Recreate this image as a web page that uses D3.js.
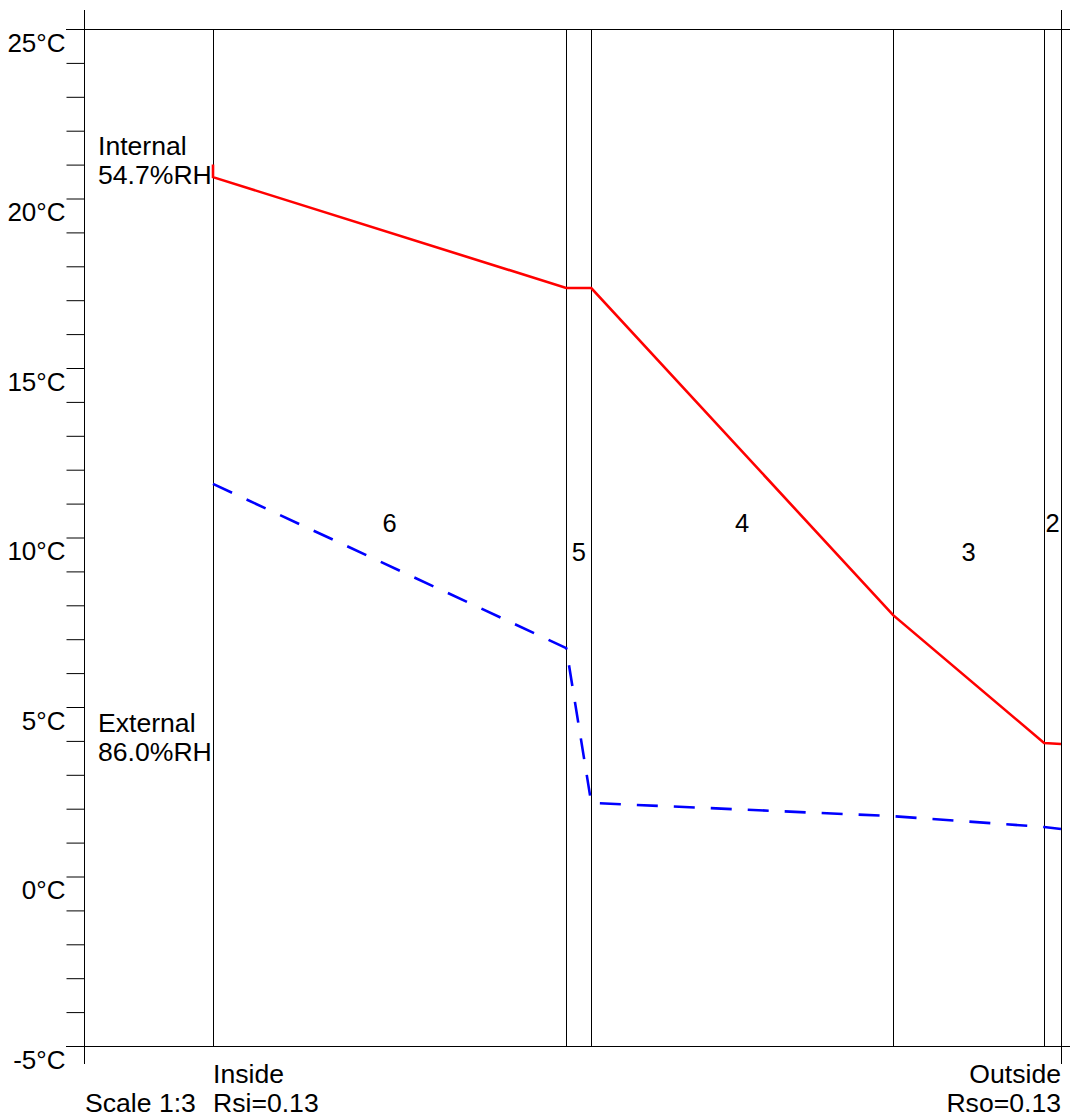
<!DOCTYPE html>
<html>
<head>
<meta charset="utf-8">
<script src="https://cdn.jsdelivr.net/npm/d3@7"></script>
<style>
  html, body { margin: 0; padding: 0; background: #fff; }
  svg { display: block; font-family: "Liberation Sans", Arial, sans-serif; }
</style>
</head>
<body>
<svg id="chart" width="1070" height="1118"></svg>
<script>
// ---- data ----
const layerNames = ["6", "5", "4", "3", "2"];            // inside -> outside
const layerThickness = [117, 8.3, 100, 50, 5.6];         // mm
const internalTemp = 21.0;                                // internal air temperature
const tempAtInterfaces = [20.63, 17.36, 17.36, 7.71, 3.94, 3.91];
const dewAtInterfaces = [11.58, 6.74, 2.17, 1.78, 1.46, 1.40];
const tickValues = d3.range(-5, 26, 1);
const majorTicks = [-5, 0, 5, 10, 15, 20, 25];
const internalLabel = ["Internal", "54.7%RH"];
const externalLabel = ["External", "86.0%RH"];
const insideLabel = ["Inside", "Rsi=0.13"];
const outsideLabel = ["Outside", "Rso=0.13"];
const scaleLabel = "Scale 1:3";

// ---- layout ----
const W = 1070, H = 1118;
const axisX = 84, plotTop = 29, plotBottom = 1046;
const wallLeft = 213, wallRight = 1061;
const svg = d3.select("#chart");
svg.append("rect").attr("width", W).attr("height", H).attr("fill", "#fff");

const y = d3.scaleLinear().domain([-5, 25]).range([plotBottom, plotTop]);
const boundaries = [0];
layerThickness.forEach(t => boundaries.push(boundaries[boundaries.length - 1] + t));
const x = d3.scaleLinear().domain([0, d3.sum(layerThickness)]).range([wallLeft, wallRight]);

// frame lines
svg.append("line").attr("x1", 66).attr("x2", W).attr("y1", plotTop + 0.5).attr("y2", plotTop + 0.5)
  .attr("stroke", "#000").attr("stroke-width", 1);
svg.append("line").attr("x1", 66).attr("x2", W).attr("y1", plotBottom + 0.5).attr("y2", plotBottom + 0.5)
  .attr("stroke", "#000").attr("stroke-width", 1);

// axis
const axis = d3.axisLeft(y).tickValues(tickValues).tickSize(18).tickSizeOuter(0)
  .tickFormat(d => majorTicks.includes(d) ? d + "°C" : "");
const gAxis = svg.append("g").attr("transform", `translate(${axisX + 0.5},0)`).call(axis);
gAxis.select(".domain").remove();
gAxis.selectAll(".tick line").attr("stroke", "#000");
gAxis.selectAll(".tick text")
  .attr("x", -19).attr("dy", "22px")
  .attr("font-size", 26).attr("font-family", "Liberation Sans, Arial, sans-serif")
  .attr("fill", "#000");
svg.append("line").attr("x1", axisX + 0.5).attr("x2", axisX + 0.5).attr("y1", 10).attr("y2", 1064)
  .attr("stroke", "#000");

// layer boundaries
svg.selectAll("line.bound").data(boundaries).enter().append("line")
  .attr("class", "bound")
  .attr("x1", d => Math.round(x(d)) + 0.5).attr("x2", d => Math.round(x(d)) + 0.5)
  .attr("y1", (d, i) => i === boundaries.length - 1 ? 10 : plotTop)
  .attr("y2", (d, i) => i === boundaries.length - 1 ? 1064 : plotBottom)
  .attr("stroke", "#000").attr("stroke-width", 1);

// layer labels
svg.selectAll("text.layer").data(layerNames).enter().append("text")
  .attr("class", "layer")
  .attr("x", (d, i) => (x(boundaries[i]) + x(boundaries[i + 1])) / 2)
  .attr("y", (d, i) => i % 2 === 0 ? 532 : 561)
  .attr("text-anchor", "middle").attr("font-size", 25.5).attr("fill", "#000")
  .text(d => d);

// temperature line: internal air point, then each interface
const tempData = [[boundaries[0], internalTemp]];
tempAtInterfaces.forEach((t, k) => tempData.push([boundaries[k], t]));
const line = d3.line().x(d => x(d[0])).y(d => y(d[1]));
svg.append("path").datum(tempData).attr("d", line)
  .attr("fill", "none").attr("stroke", "#ff0000").attr("stroke-width", 2.6)
  .attr("stroke-linejoin", "miter");

// dew point line
const dewData = dewAtInterfaces.map((t, k) => [boundaries[k], t]);
svg.append("path").datum(dewData).attr("d", line)
  .attr("fill", "none").attr("stroke", "#0000ff").attr("stroke-width", 2.6)
  .attr("stroke-dasharray", "21,16");

// text labels
function block(lines, x0, y0, anchor, gap) {
  const t = svg.append("text").attr("x", x0).attr("y", y0)
    .attr("font-size", 26.6).attr("fill", "#000").attr("text-anchor", anchor);
  lines.forEach((s, i) => t.append("tspan").attr("x", x0).attr("y", y0 + i * gap).text(s));
}
block(internalLabel, 98, 155, "start", 28.5);
block(externalLabel, 98, 732, "start", 29);
block(insideLabel, 213, 1083, "start", 29);
block(outsideLabel, 1061, 1083, "end", 29);
svg.append("text").attr("x", 85).attr("y", 1112).attr("font-size", 26.6).attr("fill", "#000").text(scaleLabel);
</script>
</body>
</html>
